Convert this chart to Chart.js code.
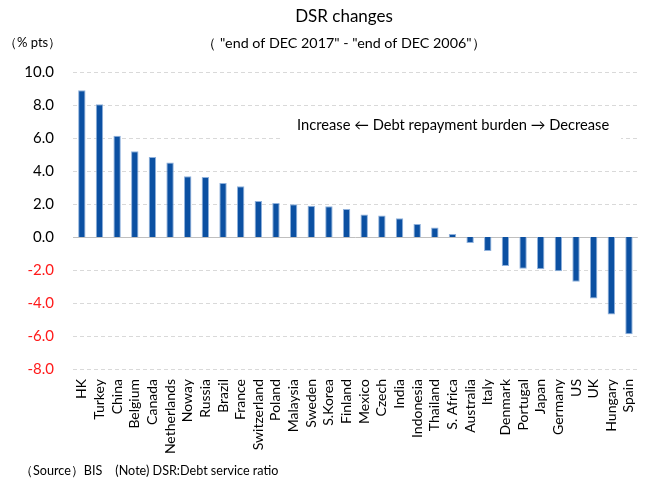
<!DOCTYPE html>
<html>
<head>
<meta charset="utf-8">
<script src="https://cdn.jsdelivr.net/npm/chart.js@4/dist/chart.umd.min.js"></script>
<style>
html,body{margin:0;padding:0;background:#fff;}
#wrap{width:656px;height:480px;position:relative;}
</style>
</head>
<body>
<div id="wrap"><canvas id="c" width="656" height="480"></canvas></div>
<script>
const categories = ["HK","Turkey","China","Belgium","Canada","Netherlands","Noway","Russia","Brazil","France","Switzerland","Poland","Malaysia","Sweden","S.Korea","Finland","Mexico","Czech","India","Indonesia","Thailand","S. Africa","Australia","Italy","Denmark","Portugal","Japan","Germany","US","UK","Hungary","Spain"];
const dsrChange = [8.9,8.04,6.14,5.19,4.85,4.52,3.68,3.64,3.27,3.07,2.18,2.06,1.98,1.90,1.86,1.70,1.37,1.31,1.13,0.79,0.57,0.18,-0.36,-0.85,-1.76,-1.92,-1.96,-2.08,-2.71,-3.72,-4.69,-5.90];
const yTicks = [10,8,6,4,2,0,-2,-4,-6,-8];

const titleText = "DSR changes";
const subtitleText = "（ \"end of DEC 2017\" - \"end of DEC 2006\"）";
const unitText = "（% pts）";
const noteText = "（Source）BIS　(Note) DSR:Debt service ratio";
const annotText = "Increase ← Debt repayment burden → Decrease";

const FONT = "Lato, 'Open Sans', 'Noto Sans', sans-serif";

const decor = {
  id: 'decor',
  beforeDatasetsDraw(chart) {
    const ctx = chart.ctx;
    const y = chart.scales.y;
    const area = chart.chartArea;
    ctx.save();
    // dashed grid lines
    ctx.strokeStyle = '#d9d9d9';
    ctx.lineWidth = 1;
    ctx.setLineDash([4, 3]);
    y.ticks.forEach(t => {
      if (t.value === 0) return;
      const py = Math.round(y.getPixelForValue(t.value)) + 0.5;
      ctx.beginPath();
      ctx.moveTo(area.left, py);
      ctx.lineTo(area.right, py);
      ctx.stroke();
    });
    ctx.setLineDash([]);
    // white box behind annotation
    ctx.fillStyle = '#fff';
    ctx.fillRect(283, 110, 338, 34);
    // zero line
    const y0 = Math.round(y.getPixelForValue(0)) + 0.5;
    ctx.strokeStyle = '#bfbfbf';
    ctx.beginPath();
    ctx.moveTo(area.left, y0);
    ctx.lineTo(area.right, y0);
    ctx.stroke();
    // annotation text
    ctx.fillStyle = '#000';
    ctx.font = "14.7px " + FONT;
    ctx.textBaseline = 'middle';
    ctx.textAlign = 'left';
    ctx.fillText(annotText, 297, 125);
    ctx.restore();
  },
  afterDraw(chart) {
    const ctx = chart.ctx;
    ctx.save();
    ctx.fillStyle = '#000';
    ctx.textBaseline = 'middle';
    ctx.textAlign = 'center';
    ctx.font = "17px " + FONT;
    ctx.fillText(titleText, 344, 17);
    ctx.font = "14.3px " + FONT;
    ctx.fillText(subtitleText, 344, 43);
    ctx.textAlign = 'left';
    ctx.font = "13px " + FONT;
    ctx.fillText(unitText, 4, 43);
    ctx.font = "12.6px " + FONT;
    ctx.fillText(noteText, 20, 471);
    ctx.restore();
  }
};

new Chart(document.getElementById('c'), {
  type: 'bar',
  data: {
    labels: categories,
    datasets: [{
      data: dsrChange,
      backgroundColor: '#0b50a2',
      borderColor: '#8fb1dc',
      borderWidth: 1,
      barPercentage: 0.42,
      categoryPercentage: 1.0
    }]
  },
  options: {
    responsive: false,
    animation: false,
    devicePixelRatio: 1,
    layout: { padding: { top: 72, right: 15, left: 0, bottom: 0 } },
    plugins: { legend: { display: false }, tooltip: { enabled: false } },
    scales: {
      x: {
        grid: { display: false, drawTicks: false },
        border: { display: false },
        ticks: {
          autoSkip: false, maxRotation: 90, minRotation: 90, padding: 10,
          color: '#000', font: { family: FONT, size: 14 }
        },
        afterFit(scale) { scale.height = 111; }
      },
      y: {
        min: -8, max: 10,
        afterBuildTicks(scale) { scale.ticks = yTicks.map(v => ({ value: v })); },
        grid: { display: false, drawTicks: false },
        border: { display: false },
        ticks: {
          padding: 19,
          color: (c) => (c.tick && c.tick.value < 0) ? '#ff1a1a' : '#000',
          font: { family: FONT, size: 15 },
          callback: (v) => Number(v).toFixed(1)
        },
        afterFit(scale) { scale.width = 73; }
      }
    }
  },
  plugins: [decor]
});
</script>
</body>
</html>
